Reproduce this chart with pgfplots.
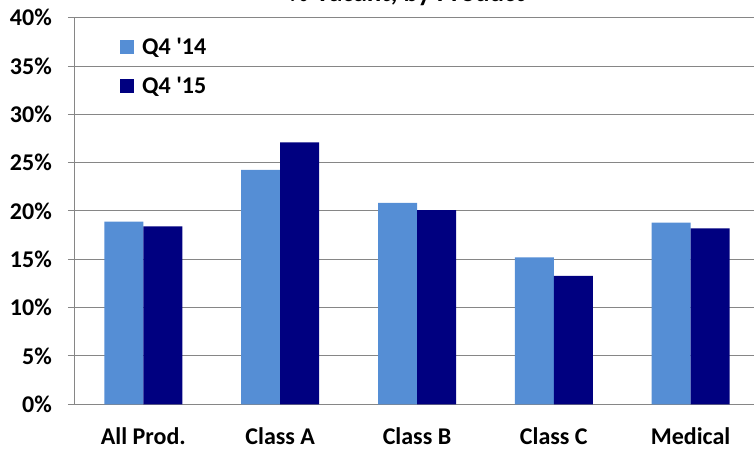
\documentclass[border=0pt]{standalone}
\usepackage{pgfplots}
\pgfplotsset{compat=1.18}
\usepackage{fontspec}
\setmainfont{Carlito}
\definecolor{lightbar}{RGB}{85,142,213}
\definecolor{darkbar}{RGB}{0,0,128}
\definecolor{gridgray}{RGB}{134,134,134}
\begin{document}
\begin{tikzpicture}
\useasboundingbox (-75bp,-45.7bp) rectangle (679bp,404.3bp);
\clip (-75bp,-45.7bp) rectangle (679bp,404.3bp);
\begin{axis}[
  at={(0,0)}, anchor=south west,
  scale only axis, width=684bp, height=386.6bp,
  ybar=0pt, bar width=39bp,
  xmin=-0.5, xmax=4.5, ymin=0, ymax=40,
  xtick={0,1,2,3,4},
  xticklabels={All Prod.,Class A,Class B,Class C,Medical},
  major x tick style={draw=none},
  extra x ticks={-0.5,0.5,1.5,2.5,3.5,4.5},
  extra x tick labels={},
  extra x tick style={major tick length=8bp, tick align=outside, grid=none, major tick style={draw=gridgray, line width=1bp}},
  ytick={0,5,...,40},
  yticklabels={0\%,5\%,10\%,15\%,20\%,25\%,30\%,35\%,40\%},
  ymajorgrids, grid style={gridgray, line width=1bp},
  tick align=outside, major tick length=7bp,
  major tick style={gridgray, line width=1bp},
  axis x line*=bottom, axis y line*=left,
  axis line style={gridgray, line width=1bp},
  yticklabel style={font=\fontsize{24bp}{28bp}\selectfont\bfseries, inner sep=0pt, xshift=-16bp},
  xticklabel style={font=\fontsize{24bp}{28bp}\selectfont\bfseries, inner sep=0pt, yshift=-16bp},
  title={\% Vacant, by Product},
  title style={font=\fontsize{27bp}{30bp}\selectfont\bfseries, at={(rel axis cs:0.485,1)}, anchor=base, yshift=10.5bp, inner sep=0pt},
  legend style={at={(rel axis cs:0.0658,0.952)}, anchor=north west, draw=none, fill=none,
     font=\fontsize{24bp}{28bp}\selectfont\bfseries, inner sep=0pt, row sep=17bp},
  legend cell align=left,
  legend image code/.code={\fill[#1] (0bp,-7bp) rectangle (14bp,7bp); \path (20bp,0bp);},
]
\addplot[fill=lightbar, draw=none] coordinates {(0,18.9) (1,24.25) (2,20.85) (3,15.2) (4,18.8)};
\addplot[fill=darkbar, draw=none] coordinates {(0,18.4) (1,27.1) (2,20.1) (3,13.3) (4,18.2)};
\legend{Q4 \textquotesingle 14, Q4 \textquotesingle 15}
\end{axis}
\end{tikzpicture}
\end{document}
